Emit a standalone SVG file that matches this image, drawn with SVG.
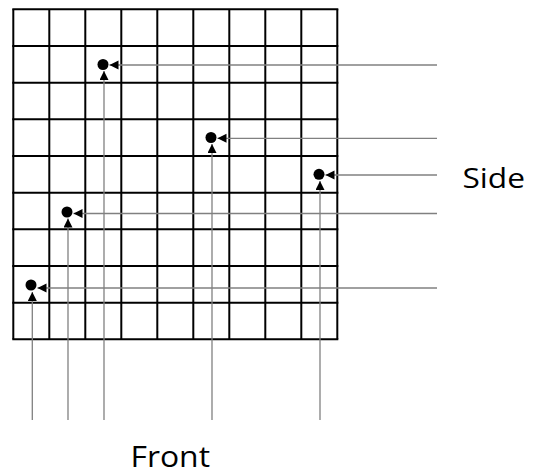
<svg xmlns="http://www.w3.org/2000/svg" width="535" height="475" viewBox="0 0 535 475">
<defs>
<style>
.grid line{stroke:#000;stroke-width:2}
.conn line{stroke:#808080;stroke-width:1.3;fill:none;marker-end:url(#ah)}
.dot{fill:#000}
.lbl{font-family:"Open Sans","Noto Sans",sans-serif;fill:#000}
</style>
<marker id="ah" markerUnits="userSpaceOnUse" markerWidth="11" markerHeight="10" refX="9" refY="4.5" orient="auto">
<path d="M0,0 L9,4.5 L0,9 z" fill="#000"/>
</marker>
</defs>
<rect width="535" height="475" fill="#fff"/>
<g class="grid" id="grid">
<line x1="13.3" y1="9.3" x2="13.3" y2="339.3"/>
<line x1="49.3" y1="9.3" x2="49.3" y2="339.3"/>
<line x1="85.3" y1="9.3" x2="85.3" y2="339.3"/>
<line x1="121.3" y1="9.3" x2="121.3" y2="339.3"/>
<line x1="157.3" y1="9.3" x2="157.3" y2="339.3"/>
<line x1="193.3" y1="9.3" x2="193.3" y2="339.3"/>
<line x1="229.3" y1="9.3" x2="229.3" y2="339.3"/>
<line x1="265.3" y1="9.3" x2="265.3" y2="339.3"/>
<line x1="301.3" y1="9.3" x2="301.3" y2="339.3"/>
<line x1="337.3" y1="9.3" x2="337.3" y2="339.3"/>
<line x1="12.3" y1="9.3" x2="338.3" y2="9.3"/>
<line x1="12.3" y1="46" x2="338.3" y2="46"/>
<line x1="12.3" y1="82.7" x2="338.3" y2="82.7"/>
<line x1="12.3" y1="119.3" x2="338.3" y2="119.3"/>
<line x1="12.3" y1="156" x2="338.3" y2="156"/>
<line x1="12.3" y1="192.7" x2="338.3" y2="192.7"/>
<line x1="12.3" y1="229.3" x2="338.3" y2="229.3"/>
<line x1="12.3" y1="266" x2="338.3" y2="266"/>
<line x1="12.3" y1="302.7" x2="338.3" y2="302.7"/>
<line x1="12.3" y1="339.3" x2="338.3" y2="339.3"/>
</g>
<g class="conn" id="connectors">
<line x1="437" y1="65" x2="109.5" y2="65"/>
<line x1="104" y1="420" x2="104" y2="71"/>
<line x1="437" y1="138.3" x2="217.5" y2="138.3"/>
<line x1="212" y1="420" x2="212" y2="144"/>
<line x1="437" y1="175" x2="325.5" y2="175"/>
<line x1="320" y1="420" x2="320" y2="181"/>
<line x1="437" y1="213.5" x2="73.5" y2="213.5"/>
<line x1="68" y1="420" x2="68" y2="218.5"/>
<line x1="437" y1="288" x2="37.5" y2="288"/>
<line x1="32.3" y1="420" x2="32.3" y2="292"/>
</g>
<g id="p1"><circle class="dot" cx="103" cy="64.5" r="5.5"/></g>
<g id="p2"><circle class="dot" cx="211" cy="137.5" r="5.5"/></g>
<g id="p3"><circle class="dot" cx="319" cy="174.3" r="5.5"/></g>
<g id="p4"><circle class="dot" cx="67" cy="212" r="5.5"/></g>
<g id="p5"><circle class="dot" cx="31" cy="285" r="5.5"/></g>
<g id="side"><text class="lbl" x="462.5" y="187.5" font-size="28" textLength="62.5" lengthAdjust="spacingAndGlyphs">Side</text></g>
<g id="front"><text class="lbl" x="130.5" y="467" font-size="29" textLength="79.5" lengthAdjust="spacingAndGlyphs">Front</text></g>
</svg>
